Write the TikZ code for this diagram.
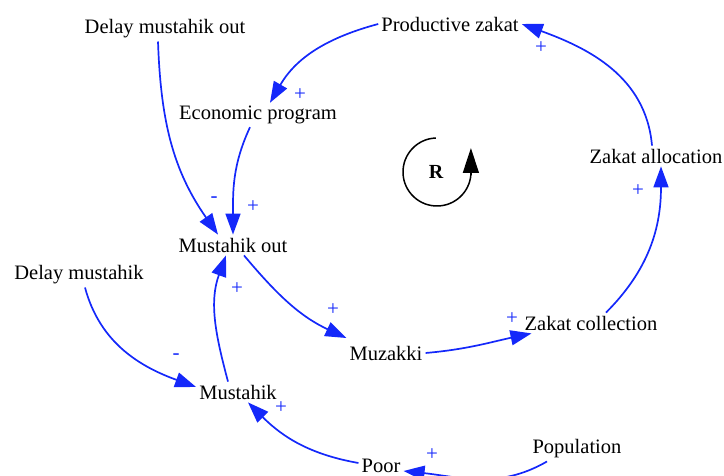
\documentclass[tikz,border=0pt]{standalone}
\usepackage{fontspec}
\setmainfont{Liberation Serif}
\usetikzlibrary{arrows.meta}
\definecolor{lnk}{RGB}{20,40,250}
\tikzset{
  var/.style={inner sep=3pt, font=\fontsize{20.5}{24}\selectfont},
  sgn/.style={inner sep=0pt, text=lnk, font=\fontsize{21}{24}\selectfont},
  lk/.style={draw=lnk, line width=1.7pt, -{Triangle[length=21pt,width=15pt]}, fill=none},
}
\begin{document}
\begin{tikzpicture}[x=1pt,y=1pt]
\useasboundingbox (0,0) rectangle (724,476);
% variables
\node[var] (pz) at (450,452) {Productive zakat};
\node[var] (dmo) at (165,447) {Delay mustahik out};
\node[var] (ep) at (258,361) {Economic program};
\node[var] (za) at (656,320) {Zakat allocation};
\node[var] (mo) at (233,231) {Mustahik out};
\node[var] (dm) at (79,201) {Delay mustahik};
\node[var] (zc) at (591,153) {Zakat collection};
\node[var] (mz) at (386,123) {Muzakki};
\node[var] (m) at (238,84) {Mustahik};
\node[var] (poor) at (381,10) {Poor};
\node[var] (pop) at (577,27) {Population};
\node[inner sep=0pt, font=\fontsize{20}{24}\selectfont\bfseries] (r) at (436,304) {R};
% loop symbol
\draw[line width=1.5pt] (437,304) ++(92:34) arc[start angle=92, end angle=355, radius=34];
\draw[line width=1.5pt, -{Triangle[length=25pt,width=16pt]}] (470.9,301) -- (470.9,328);
% links
\draw[lk] (pz.west) to[out=195,in=60] ([xshift=12pt]ep.north);
\draw[lk] ([xshift=-7pt]dmo.south) to[out=-88,in=125] ([xshift=-15pt]mo.north);
\draw[lk] ([xshift=-8pt]ep.south) to[out=245,in=90] (mo.north);
\draw[lk] ([xshift=-10pt]m.north) to[out=105,in=250] ([xshift=-7pt]mo.south);
\draw[lk] ([xshift=11pt]mo.south) to[out=-50,in=155] ([yshift=15pt]mz.west);
\draw[lk] (mz.east) to[out=5,in=192] ([xshift=10pt]zc.south west);
\draw[lk] ([xshift=15pt]zc.north) to[out=45,in=270] ([xshift=5pt]za.south);
\draw[lk] ([xshift=-4pt]za.north) to[out=95,in=-20] (pz.east);
\draw[lk] ([xshift=6pt]dm.south) to[out=-75,in=160] ([yshift=5pt]m.west);
\draw[lk] ([yshift=3pt]poor.west) to[out=170,in=-45] ([xshift=10pt]m.south);
\draw[lk] ([xshift=-30pt]pop.south) to[out=-150,in=-6] ([yshift=-5pt]poor.east);
% polarity signs
\node[sgn] (s1) at (300,381) {+};
\node[sgn] (s2) at (214,276) {-};
\node[sgn] (s3) at (253,269) {+};
\node[sgn] (s4) at (237,187) {+};
\node[sgn] (s5) at (333,166) {+};
\node[sgn] (s6) at (512,157) {+};
\node[sgn] (s7) at (638,285) {+};
\node[sgn] (s8) at (541,428) {+};
\node[sgn] (s9) at (176,119) {-};
\node[sgn] (s10) at (281,68) {+};
\node[sgn] (s11) at (432,21) {+};
\end{tikzpicture}
\end{document}
